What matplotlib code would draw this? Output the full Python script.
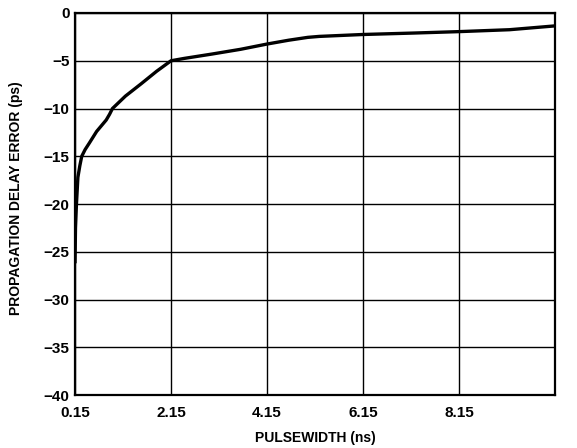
import matplotlib
matplotlib.use("Agg")
import matplotlib.pyplot as plt

plt.rcParams['font.family'] = ['Liberation Sans', 'DejaVu Sans']
plt.rcParams['font.weight'] = 'bold'

pulsewidth = [0.15, 0.16, 0.18, 0.21, 0.25, 0.29, 0.36, 0.45, 0.6, 0.8, 0.87, 0.93,
              1.2, 1.53, 1.85, 2.15, 2.43, 3.0, 3.6, 4.15, 4.6, 5.0, 5.24, 6.15,
              7.2, 8.15, 9.2, 10.15]
delay_error = [-26.2, -22.5, -20.0, -17.2, -16.0, -15.0, -14.3, -13.6, -12.4, -11.2, -10.6, -10.0,
               -8.7, -7.4, -6.1, -5.0, -4.75, -4.3, -3.8, -3.25, -2.85, -2.55, -2.45, -2.25,
               -2.1, -1.95, -1.75, -1.35]

xticks = [0.15, 2.15, 4.15, 6.15, 8.15]
xgrid = [0.15, 2.15, 4.15, 6.15, 8.15, 10.15]
yticks = [0, -5, -10, -15, -20, -25, -30, -35, -40]

fig = plt.figure(figsize=(5.77, 4.48), dpi=100)
ax = fig.add_axes([0.13, 0.118, 0.832, 0.853])

for x in xgrid:
    ax.axvline(x, color='black', lw=1.0, zorder=1)
for y in yticks:
    ax.axhline(y, color='black', lw=1.0, zorder=1)

ax.plot(pulsewidth, delay_error, color='black', lw=2.4, solid_capstyle='butt', zorder=3)

ax.set_xlim(0.15, 10.15)
ax.set_ylim(-40, 0)
ax.set_xticks(xticks)
ax.set_xticklabels([f"{v:.2f}" for v in xticks])
ax.set_yticks(yticks)
ax.set_yticklabels([str(v).replace('-', '\u2212') for v in yticks])
ax.tick_params(length=0, labelsize=11, pad=4)
ax.tick_params(axis='x', pad=8)
for s in ax.spines.values():
    s.set_linewidth(1.6)
    s.set_color('black')

ax.set_xlabel('PULSEWIDTH (ns)', fontsize=10, fontweight='bold', labelpad=8)
ax.set_ylabel('PROPAGATION DELAY ERROR (ps)', fontsize=10, fontweight='bold')
ax.yaxis.set_label_coords(-0.108, 0.516)

fig.savefig('out.png', dpi=100)
